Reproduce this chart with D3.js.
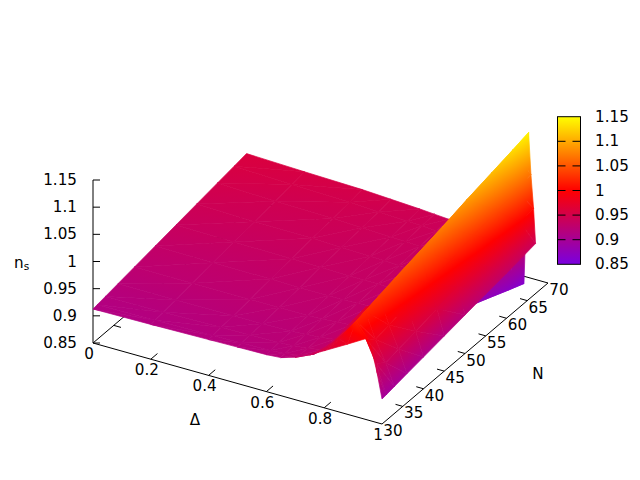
<!DOCTYPE html>
<html><head><meta charset="utf-8">
<script src="https://cdn.jsdelivr.net/npm/d3@7"></script>
<style>html,body{margin:0;background:#fff}svg{display:block}text{font-family:"DejaVu Sans";font-size:15.2px;fill:#000}</style>
</head><body><svg id="c" width="640" height="480"></svg>
<script>
// Tick labels
const deltaTicks = [0, 0.2, 0.4, 0.6, 0.8, 1];
const nTicks = [30, 35, 40, 45, 50, 55, 60, 65, 70];
const zTicks = [0.85, 0.9, 0.95, 1, 1.05, 1.1, 1.15];
// Surface rows. Each row lists the Delta position of its sample and the n_s value there.
const rowsN = [67, 64, 60, 55, 50, 45, 40, 36, 33, 31, 30];
const rowDelta = [
 [0,.2,.4,.5,.6,.65,.7,.75,.8,.96,.976,.984,.993,1],
 [0,.2,.4,.5,.6,.65,.7,.75,.8,.95,.965,.977,.9895,1],
 [0,.2,.4,.5,.6,.65,.7,.75,.8,.93,.95,.9675,.985,1],
 [0,.2,.4,.5,.6,.65,.7,.75,.8,.91,.936,.958,.981,1],
 [0,.2,.4,.5,.6,.65,.7,.75,.8,.894,.924,.951,.977,1],
 [0,.2,.4,.5,.6,.65,.7,.75,.8,.887,.917,.946,.975,1],
 [0,.2,.4,.5,.6,.65,.7,.75,.8,.88,.91,.9415,.973,1],
 [0,.2,.4,.5,.6,.65,.7,.75,.8,.874,.904,.938,.971,1],
 [0,.2,.4,.5,.6,.65,.7,.75,.8,.869,.899,.934,.97,1],
 [0,.2,.4,.5,.6,.65,.7,.75,.8,.84,.896,.93,.965,1],
 [0,.2,.4,.5,.6,.65,.7,.75,.8,.88,.948,.965,.983,1]
];
const rowValue = [
 [.9586,.955,.952,.949,.946,.944,.942,.937,.93,.8625,1.143,1.067,1.006,.942],
 [.9548,.951,.948,.945,.943,.942,.94,.936,.93,.8686,1.129,1.056,.999,.938],
 [.9499,.946,.944,.942,.94,.939,.938,.935,.931,.875,1.111,1.043,.99,.933],
 [.9437,.941,.94,.938,.937,.936,.935,.933,.931,.884,1.092,1.029,.98,.927],
 [.9375,.936,.935,.934,.933,.933,.933,.932,.931,.915,1.073,1.015,.9695,.9208],
 [.9312,.93,.93,.929,.929,.929,.93,.931,.931,.925,1.059,1.004,.961,.9146],
 [.925,.925,.925,.925,.925,.926,.928,.93,.97,1.0,1.045,.993,.952,.9084],
 [.92,.92,.921,.921,.922,.924,.926,.93,.96,.99,1.033,.984,.945,.9035],
 [.9163,.917,.919,.92,.921,.9225,.925,.93,.955,1.0,1.023,.976,.939,.8997],
 [.9138,.915,.917,.918,.919,.921,.926,.935,.955,.975,1.0175,.99,.95,.897],
 [.9126,.914,.916,.917,.918,.92,.928,.94,.955,.979,1,.98,.942,.896]
];
// Palette stops
const cbValues = [0.85, 1, 1.15];
const cbColors = ["#7a00e0", "#ff0000", "#ffff00"];

const dX = d3.scaleLinear([0,1],[0,289]), dY = d3.scaleLinear([0,1],[0,81]);
const nX = d3.scaleLinear([30,70],[0,166]), nY = d3.scaleLinear([30,70],[0,-141]);
const zY = d3.scaleLinear([0.85,1.15],[0,-163]);
const ox = 93, oy = 343;
const px = (d,n)=>ox+dX(d)+nX(n);
const py = (d,n,z)=>oy+dY(d)+nY(n)+zY(z);
const color = d3.scaleLinear(cbValues, cbColors).clamp(true);

const svg = d3.select("#c");
const defs = svg.append("defs");
const pline = (a,b)=>svg.append("line").attr("x1",a[0]).attr("y1",a[1]).attr("x2",b[0]).attr("y2",b[1]).attr("stroke","#000").attr("stroke-width",1);
const bp = (d,n)=>[px(d,n),py(d,n,.85)];
// base frame
[[[0,30],[1,30]],[[1,30],[1,70]],[[1,70],[0,70]],[[0,70],[0,30]]].forEach(e=>pline(bp(...e[0]),bp(...e[1])));
// ticks on base
const tD = [nX(31.6)-nX(30), nY(31.6)-nY(30)];
const tN = [dX(.025), dY(.025)];
deltaTicks.slice(1,-1).forEach(d=>{const a=bp(d,30),b=bp(d,70);
 pline(a,[a[0]+tD[0],a[1]+tD[1]]);pline(b,[b[0]-tD[0],b[1]-tD[1]]);});
nTicks.slice(1,-1).forEach(n=>{const a=bp(1,n),b=bp(0,n);
 pline(a,[a[0]-tN[0],a[1]-tN[1]]);pline(b,[b[0]+tN[0],b[1]+tN[1]]);});
// z axis
pline([ox,oy],[ox,oy+zY(1.15)]);
zTicks.forEach(z=>pline([ox,oy+zY(z)],[ox+7,oy+zY(z)]));

// surface: far rows first, low Delta first; every cell is two shaded triangles
const surf = svg.append("g");
let gid=0;
function tri(P){
 const [a,b,c]=P;
 const vs=P.map(p=>p[2]);
 const vmin=d3.min(vs), vmax=d3.max(vs);
 const dpath="M"+P.map(p=>p[0].toFixed(2)+","+p[1].toFixed(2)).join("L")+"Z";
 const ux=b[0]-a[0],uy=b[1]-a[1],wx=c[0]-a[0],wy=c[1]-a[1];
 const det=ux*wy-uy*wx, dv1=b[2]-a[2], dv2=c[2]-a[2];
 let fill;
 if(Math.abs(det)<1e-6||vmax-vmin<1e-6){ fill=color(d3.mean(vs)); }
 else{
  const gx=(dv1*wy-dv2*uy)/det, gy=(ux*dv2-wx*dv1)/det, g2=gx*gx+gy*gy;
  const lo=P[vs.indexOf(vmin)], k=(vmax-vmin)/g2;
  const id="g"+(gid++);
  const gr=defs.append("linearGradient").attr("id",id).attr("gradientUnits","userSpaceOnUse")
   .attr("x1",lo[0]).attr("y1",lo[1]).attr("x2",lo[0]+gx*k).attr("y2",lo[1]+gy*k);
  const st=[vmin,...cbValues.filter(v=>v>vmin&&v<vmax),vmax];
  st.forEach(v=>gr.append("stop").attr("offset",(v-vmin)/(vmax-vmin)).attr("stop-color",color(v)));
  fill="url(#"+id+")";
 }
 surf.append("path").attr("d",dpath).attr("fill",fill).attr("stroke",fill).attr("stroke-width",.7).attr("stroke-linejoin","round");
}
const pt=(i,j)=>{const d=rowDelta[i][j],n=rowsN[i],z=rowValue[i][j];return [px(d,n),py(d,n,z),z];};
for(let i=0;i<rowsN.length-1;i++){
 for(let j=0;j<rowDelta[i].length-1;j++){
  const A=pt(i,j),B=pt(i,j+1),C=pt(i+1,j),D=pt(i+1,j+1);
  tri([A,B,C]);tri([B,D,C]);
 }
}
// tick labels
const lab=(x,y,s,anc)=>svg.append("text").attr("x",x).attr("y",y).attr("text-anchor",anc||"middle").attr("dominant-baseline","central").text(s);
zTicks.forEach(z=>lab(77,oy+zY(z),String(z),"end"));
deltaTicks.forEach(d=>{const a=bp(d,30);lab(a[0]-4,a[1]+11,String(d));});
nTicks.forEach(n=>{const a=bp(1,n);lab(a[0]+11,a[1]+7,String(n));});
lab(195,420,"Δ");lab(538,374,"N");
const ns=svg.append("text").attr("x",14).attr("y",268);
ns.append("tspan").text("n");ns.append("tspan").attr("dy",2).style("font-size","10.6px").text("s");

// colour box
const cbY=d3.scaleLinear([0.85,1.15],[264.3,116.7]);
const cg=defs.append("linearGradient").attr("id","cb").attr("x1",0).attr("y1",1).attr("x2",0).attr("y2",0);
cbValues.forEach((v,i)=>cg.append("stop").attr("offset",(v-.85)/.3).attr("stop-color",cbColors[i]));
svg.append("rect").attr("x",557.5).attr("y",cbY(1.15)).attr("width",23).attr("height",cbY(.85)-cbY(1.15)).attr("fill","url(#cb)").attr("stroke","#000");
zTicks.forEach(z=>{
 if(z>.85&&z<1.15){pline([557.5,cbY(z)],[565.5,cbY(z)]);pline([572.5,cbY(z)],[580.5,cbY(z)]);}
 lab(595,cbY(z),String(z),"start");
});
</script></body></html>
